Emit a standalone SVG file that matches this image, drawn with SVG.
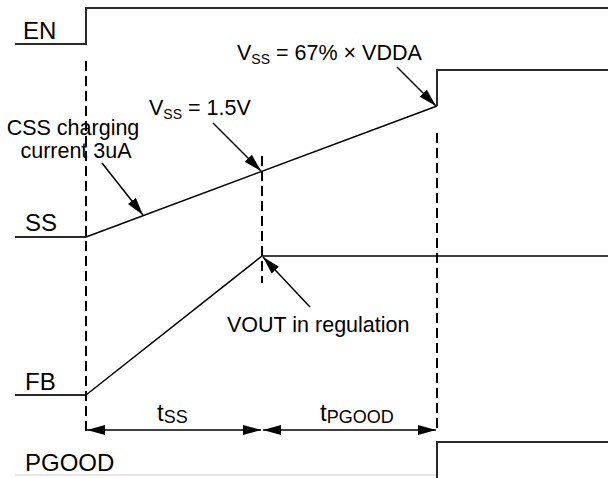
<svg xmlns="http://www.w3.org/2000/svg" width="608" height="478" viewBox="0 0 608 478">
<defs>
<marker id="ah" markerUnits="userSpaceOnUse" markerWidth="20" markerHeight="12" refX="18" refY="5" orient="auto-start-reverse" viewBox="0 0 20 12">
<path d="M0,0 L18,5 L0,10 z" fill="#000"/>
</marker>
<style>
.sig{fill:none;stroke:#2a2a2a;stroke-width:2}
.ramp{fill:none;stroke:#000;stroke-width:1.5}
.dash{fill:none;stroke:#000;stroke-width:2;stroke-dasharray:10 5}
.arr{fill:none;stroke:#000;stroke-width:1.5;marker-end:url(#ah)}
.dim{fill:none;stroke:#000;stroke-width:1.5;marker-start:url(#ah);marker-end:url(#ah)}
text{font-family:"Liberation Sans",Arial,sans-serif;font-size:21.5px;fill:#000}
.name{font-size:24px}
.sub{font-size:14px}
.big{font-size:24px}
.sub2{font-size:18px}
</style>
</defs>
<rect width="608" height="478" fill="#fff"/>
<g id="EN">
<polyline class="sig" points="15,44 86,44 86,8 608,8"/>
<text x="23" y="39" class="name">EN</text>
</g>
<g id="SS">
<polyline class="sig" points="15,237 86,237"/>
<polyline class="ramp" points="86,237 437,106"/>
<polyline class="sig" points="437,106 437,70 608,70"/>
<text x="25" y="231" class="name">SS</text>
</g>
<g id="FB">
<polyline class="sig" points="15,395 86,395"/>
<polyline class="ramp" points="86,395 262,256 608,256"/>
<text x="25" y="390" class="name">FB</text>
</g>
<g id="PGOOD">
<polyline fill="none" stroke="#cfcfcf" stroke-width="1" points="15,475 437,475"/>
<polyline class="sig" points="437,478 437,442 608,442"/>
<text x="25" y="471" class="name">PGOOD</text>
</g>
<g id="labels">
<text x="73" y="135" text-anchor="middle">CSS charging</text>
<text x="76" y="158" text-anchor="middle">current 3uA</text>
<text x="149" y="115">V<tspan class="sub" dy="4">SS</tspan><tspan dy="-4"> = 1.5V</tspan></text>
<text x="237" y="60">V<tspan class="sub" dy="4">SS</tspan><tspan dy="-4"> = 67% × VDDA</tspan></text>
<text x="227" y="332">VOUT in regulation</text>
<text x="157" y="421" class="big">t<tspan class="sub2" dy="2">SS</tspan></text>
<text x="320" y="421" class="big">t<tspan class="sub2" dy="2">PGOOD</tspan></text>
</g>
<g id="connectors">
<line class="dash" x1="86" y1="61" x2="86" y2="431"/>
<line class="dash" x1="262" y1="156" x2="262" y2="283"/>
<line class="dash" x1="437" y1="133" x2="437" y2="431"/>
<line class="arr" x1="102" y1="163" x2="143" y2="215"/>
<line class="arr" x1="213" y1="123" x2="261" y2="171"/>
<line class="arr" x1="397" y1="67" x2="436" y2="106"/>
<line class="arr" x1="310" y1="307" x2="263" y2="257"/>
<line class="dim" x1="87" y1="430" x2="261" y2="430"/>
<line class="dim" x1="263" y1="430" x2="436" y2="430"/>
</g>
</svg>
